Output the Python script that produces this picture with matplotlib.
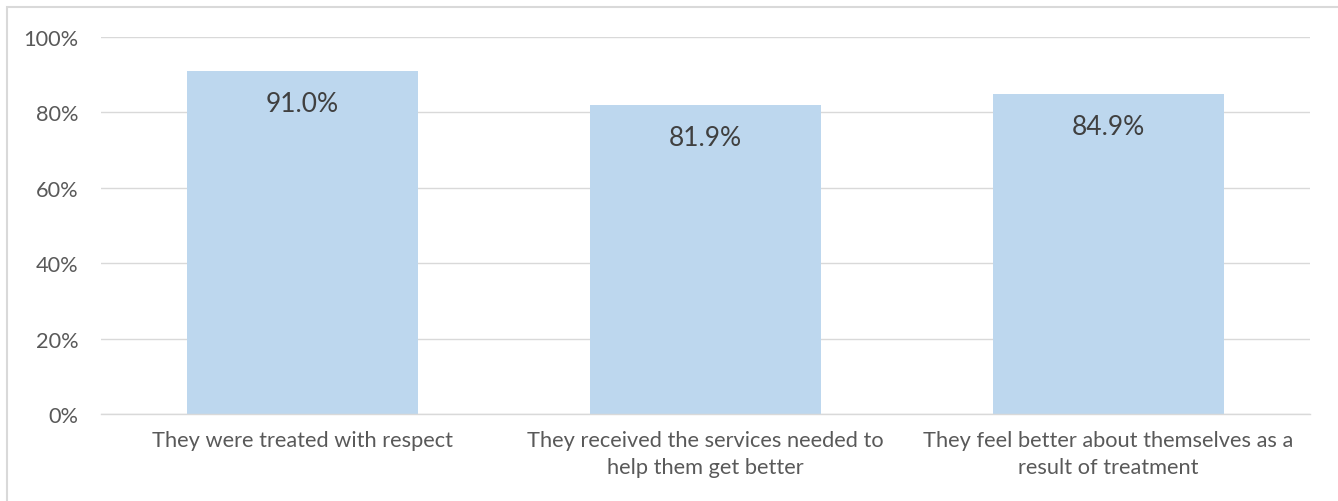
import matplotlib
matplotlib.use("Agg")
import matplotlib.pyplot as plt
from matplotlib.patches import Rectangle
from matplotlib.ticker import FuncFormatter

categories = ["They were treated with respect",
              "They received the services needed to\nhelp them get better",
              "They feel better about themselves as a\nresult of treatment"]
values = [91.0, 81.9, 84.9]
yticks = [0, 20, 40, 60, 80, 100]

plt.rcParams['font.family'] = ['Lato', 'DejaVu Sans']

W, H = 1338, 502
fig = plt.figure(figsize=(W / 100, H / 100), dpi=100)
ax = fig.add_axes([101 / W, 1 - 415 / H, (1310 - 101) / W, (415 - 38) / H])

x = list(range(len(categories)))
ax.bar(x, values, width=0.571, color="#BDD7EE", zorder=2)
ax.set_xlim(-0.5, 2.5)
ax.set_ylim(0, 100)
ax.set_yticks(yticks)
ax.yaxis.set_major_formatter(FuncFormatter(lambda v, p: f"{v:.0f}%"))
ax.grid(axis="y", color="#D9D9D9", linewidth=1.0, zorder=0)
for s in ["top", "right", "left"]:
    ax.spines[s].set_visible(False)
ax.spines["bottom"].set_color("#D9D9D9")
ax.spines["bottom"].set_linewidth(1.0)
ax.spines["bottom"].set_zorder(3)
ax.tick_params(axis="both", length=0, colors="#595959", labelsize=15.7)
ax.tick_params(axis="y", pad=16)
ax.tick_params(axis="x", pad=11.5)
ax.set_xticks(x)
ax.set_xticklabels(categories, linespacing=1.46)

for xi, v in zip(x, values):
    ax.annotate(f"{v:.1f}%", xy=(xi, v), xytext=(0, -23.5), textcoords="offset points",
                ha="center", va="center", fontsize=19, color="#404040", zorder=4)

fig.patches.append(Rectangle((7 / W, -0.1), 1.2, 1 - 8 / H + 0.1, transform=fig.transFigure,
                             fill=False, edgecolor="#D9D9D9", linewidth=1.5))

fig.savefig("out.png", dpi=100)
